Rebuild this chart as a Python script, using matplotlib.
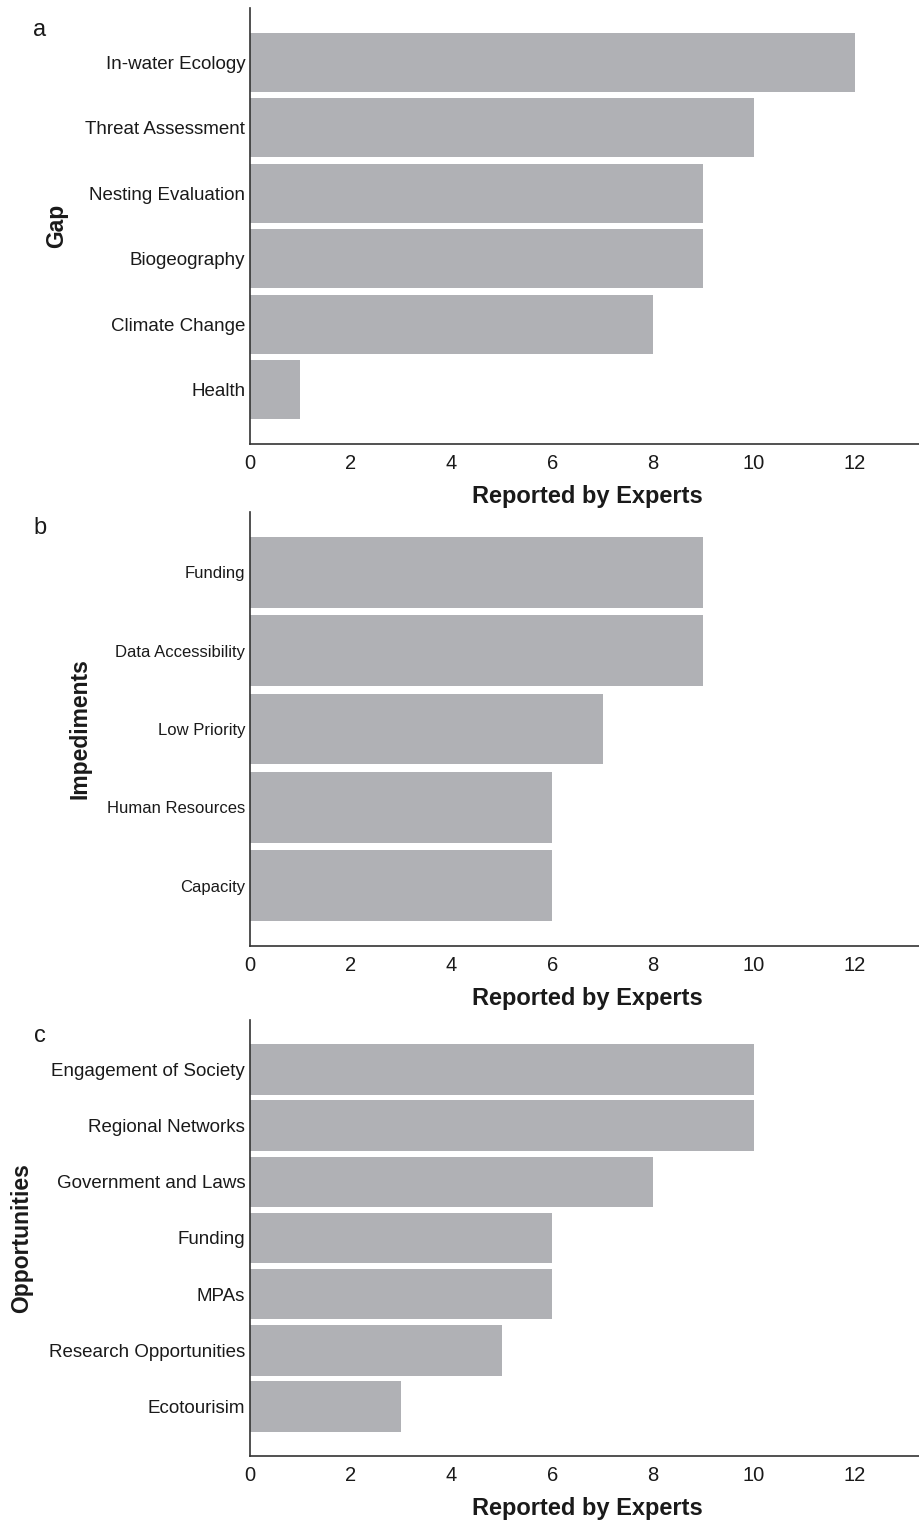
import matplotlib
matplotlib.use("Agg")
import matplotlib.pyplot as plt
from matplotlib import font_manager

# ---- data ----
gap_labels = ["In-water Ecology", "Threat Assessment", "Nesting Evaluation",
              "Biogeography", "Climate Change", "Health"]
gap_values = [12, 10, 9, 9, 8, 1]

imp_labels = ["Funding", "Data Accessibility", "Low Priority",
              "Human Resources", "Capacity"]
imp_values = [9, 9, 7, 6, 6]

opp_labels = ["Engagement of Society", "Regional Networks", "Government and Laws",
              "Funding", "MPAs", "Research Opportunities", "Ecotourisim"]
opp_values = [10, 10, 8, 6, 6, 5, 3]

x_ticks = [0, 2, 4, 6, 8, 10, 12]

# ---- style ----
names = {f.name for f in font_manager.fontManager.ttflist}
base = "Liberation Sans" if "Liberation Sans" in names else "DejaVu Sans"
narrow = "Liberation Sans Narrow" if "Liberation Sans Narrow" in names else base
plt.rcParams["font.family"] = [base, "DejaVu Sans"]

BAR = "#b0b1b5"
SPINE = "#333333"
TXT = "#1a1a1a"

fig = plt.figure(figsize=(9.2, 15.21), dpi=100)
W, H = 920, 1521

panels = [
    dict(labels=gap_labels, values=gap_values, ylabel="Gap", top=8, bottom=444,
         pad=0.83, fs=13.5, ylx=57, letter="a", ly=30),
    dict(labels=imp_labels, values=imp_values, ylabel="Impediments", top=512, bottom=946,
         pad=0.77, fs=12, ylx=80, letter="b", ly=528),
    dict(labels=opp_labels, values=opp_values, ylabel="Opportunities", top=1020, bottom=1456,
         pad=0.88, fs=13.5, ylx=22, letter="c", ly=1036),
]

left_px = 250
for p in panels:
    ax = fig.add_axes([left_px / W, 1 - p["bottom"] / H, (W - left_px) / W,
                       (p["bottom"] - p["top"]) / H])
    n = len(p["labels"])
    ypos = list(range(n - 1, -1, -1))
    ax.barh(ypos, p["values"], height=0.9, color=BAR, edgecolor="none")
    ax.set_yticks(ypos)
    ax.set_yticklabels(p["labels"], fontsize=p["fs"], color=TXT)
    ax.set_ylim(-p["pad"], n - 1 + p["pad"])
    ax.set_xlim(0, 13.3)
    ax.set_xticks(x_ticks)
    ax.set_xticklabels([str(t) for t in x_ticks], fontsize=14.5, family=[narrow, "DejaVu Sans"],
                       color=TXT)
    ax.tick_params(axis="both", length=0)
    ax.tick_params(axis="y", pad=3.5)
    ax.tick_params(axis="x", pad=7)
    for s in ["top", "right"]:
        ax.spines[s].set_visible(False)
    for s in ["left", "bottom"]:
        ax.spines[s].set_color(SPINE)
        ax.spines[s].set_linewidth(1.2)
    ax.set_xlabel("Reported by Experts", fontsize=17, fontweight="bold", color=TXT)
    ax.xaxis.set_label_coords(0.504, -52 / (p["bottom"] - p["top"]))
    ax.xaxis.label.set_va("center")
    ax.set_ylabel(p["ylabel"], fontsize=16.5, fontweight="bold", color=TXT)
    ax.yaxis.set_label_coords((p["ylx"] - left_px) / (W - left_px), 0.5)
    ax.yaxis.label.set_va("center")
    fig.text(40 / W, 1 - p["ly"] / H, p["letter"], fontsize=17, ha="center", va="center",
             color=TXT)

fig.savefig("out.png", dpi=100)
